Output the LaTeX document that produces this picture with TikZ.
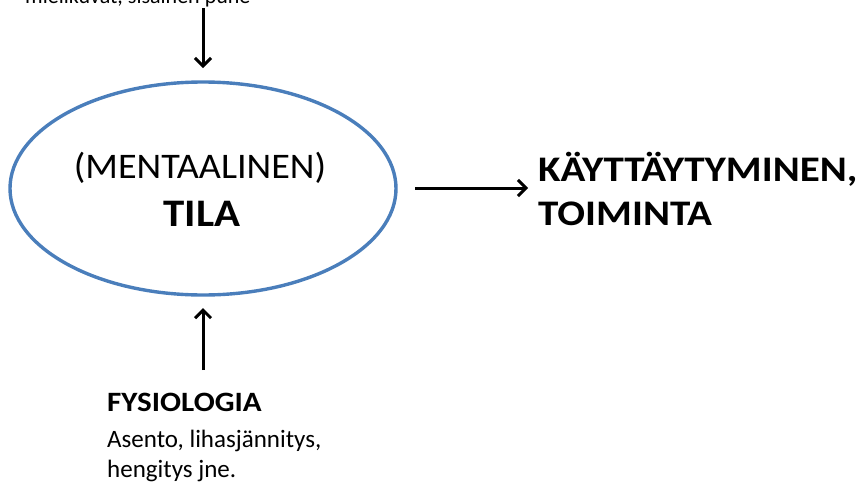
\documentclass[tikz,border=0pt]{standalone}
\usepackage{fontspec}
\setmainfont{Carlito}
\usetikzlibrary{arrows.meta,shapes.geometric}
\definecolor{ellblue}{HTML}{4A7EBB}
\tikzset{
  flow/.style={line width=3pt, -{Straight Barb[length=8pt,width=16pt,line width=3pt]}},
  txt/.style={inner sep=0pt, align=left, text=black},
}
\begin{document}
\begin{tikzpicture}[x=1pt,y=-1pt]
  \useasboundingbox (0,0) rectangle (859,485);
  \begin{scope}
    \clip (0,0) rectangle (859,485);
    % description line above the state, running off the top edge
    \node[txt, anchor=base west, font=\fontsize{22}{28}\selectfont] (top) at (25,3) {mielikuvat, sisäinen puhe};
  \end{scope}
  \coordinate (topend) at (203,8);

  % mental state
  \node[draw=ellblue, line width=3.4pt, ellipse, inner sep=0pt, minimum width=386pt, minimum height=213pt] (state) at (203,188.5) {};
  \node[txt, anchor=base, xscale=1.06, font=\fontsize{36}{40}\selectfont] (ment) at (200,178) {(MENTAALINEN)};
  \node[txt, anchor=base, xscale=1.1, font=\fontsize{39}{42}\selectfont\bfseries] (tila) at (202,226) {TILA};

  % behaviour (base anchor sits on the last line)
  \node[txt, anchor=base west, xscale=1.14, font=\fontsize{36}{44}\selectfont\bfseries] (beh) at (538,225) {KÄYTTÄYTYMINEN,\\TOIMINTA};

  % physiology
  \node[txt, anchor=base west, xscale=1.11, font=\fontsize{28}{30}\selectfont\bfseries] (fys) at (107,411) {FYSIOLOGIA};
  \node[txt, anchor=base west, font=\fontsize{25}{30}\selectfont] (fysd) at (107,477) {Asento, lihasjännitys,\\hengitys jne.};

  % connectors
  \coordinate (topin) at (203,68);
  \coordinate (botout) at (203,370);
  \coordinate (botin) at (203,308);
  \coordinate (rout) at (415,188);
  \coordinate (rin) at (528,188);
  \draw[flow] (topend) -- (topin);
  \draw[flow] (botout) -- (botin);
  \draw[flow] (rout) -- (rin);
\end{tikzpicture}
\end{document}
